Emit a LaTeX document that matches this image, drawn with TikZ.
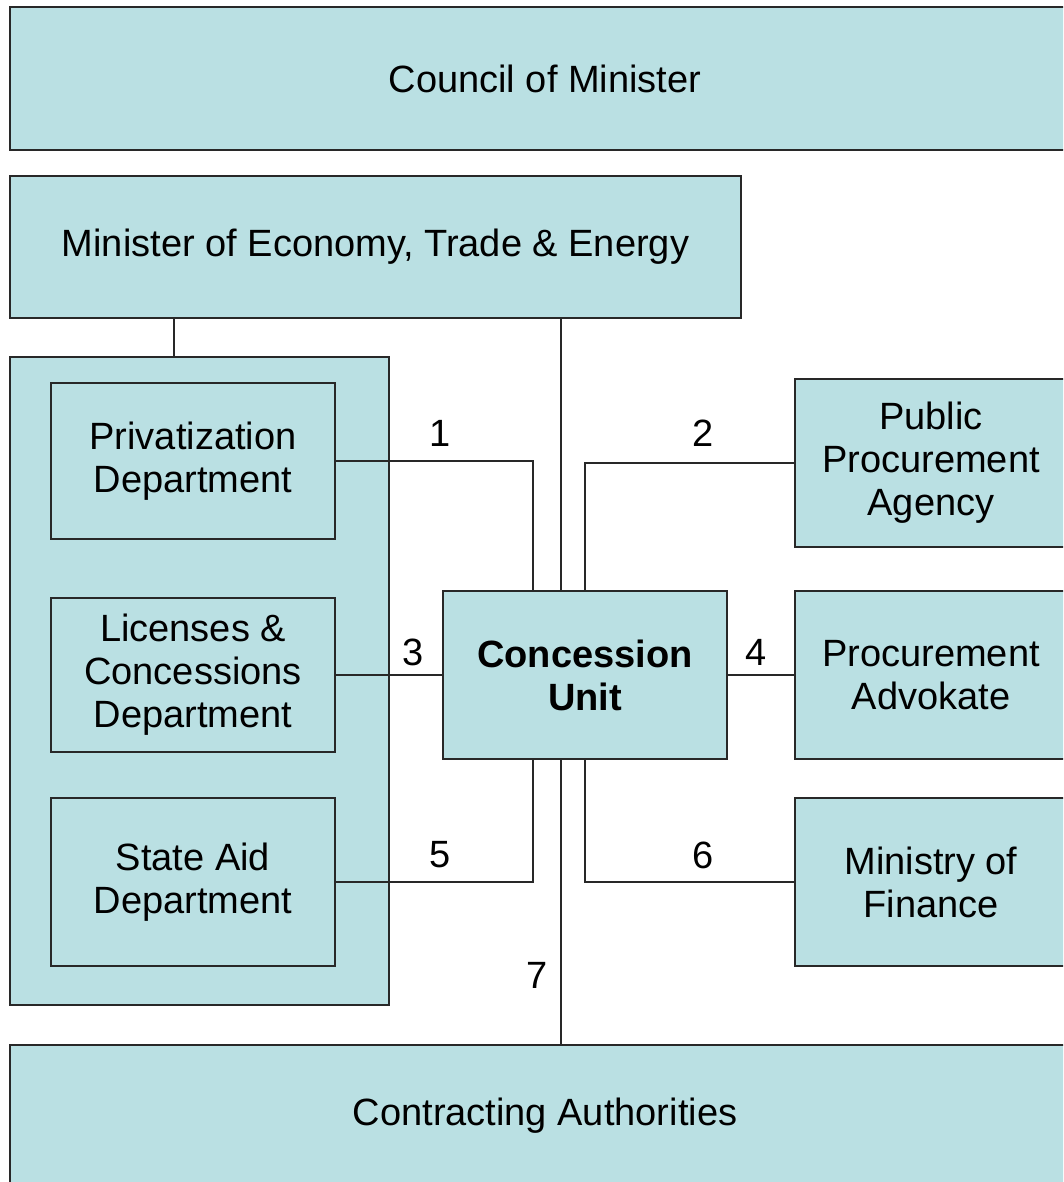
\documentclass[tikz,border=0pt]{standalone}
\usepackage{fontspec}
\setmainfont{Liberation Sans}
\definecolor{boxfill}{RGB}{186,224,227}
\definecolor{edge}{RGB}{40,40,40}
\begin{document}
\begin{tikzpicture}[x=1pt,y=-1pt,
  box/.style={draw=edge,line width=1.6pt,fill=boxfill,rectangle,inner sep=0pt,
    align=center,font=\fontsize{38}{43}\selectfont},
  conn/.style={draw=edge,line width=1.3pt},
  lbl/.style={font=\fontsize{38}{43}\selectfont,inner sep=0pt}]
\clip (0,0) rectangle (1063,1182);
\fill[white] (0,0) rectangle (1063,1182);
\node[box,minimum width=1070pt,minimum height=143pt] (council) at (545,78.5) {Council of Minister};
\node[box,minimum width=731pt,minimum height=142pt] (minister) at (375.5,247) {Minister of Economy, Trade \& Energy};
\node[box,minimum width=379pt,minimum height=648pt] (container) at (199.5,681) {};
\node[box,minimum width=284pt,minimum height=156pt] (priv) at (193,461) {Privatization\\Department};
\node[box,minimum width=284pt,minimum height=154pt] (lic) at (193,675) {Licenses \&\\Concessions\\Department};
\node[box,minimum width=284pt,minimum height=168pt] (state) at (193,882) {State Aid\\Department};
\node[box,minimum width=284pt,minimum height=168pt,font=\fontsize{38}{43}\selectfont\bfseries] (cu) at (585,675) {Concession\\Unit};
\node[box,minimum width=272pt,minimum height=168pt] (ppa) at (931,463) {Public\\Procurement\\Agency};
\node[box,minimum width=272pt,minimum height=168pt] (adv) at (931,675) {Procurement\\Advokate};
\node[box,minimum width=272pt,minimum height=168pt] (mof) at (931,882) {Ministry of\\Finance};
\node[box,minimum width=1070pt,minimum height=142pt] (contr) at (545,1116) {Contracting Authorities};
% connectors
\draw[conn] (minister.south -| 174,0) -- (container.north -| 174,0);
\draw[conn] (minister.south -| 561,0) -- ([xshift=-24pt]cu.north);
\draw[conn] ([xshift=-24pt]cu.south) -- (contr.north -| 561,0);
\draw[conn] (priv.east) -| ([xshift=-52pt]cu.north);
\draw[conn] (ppa.west) -| (cu.north);
\draw[conn] (lic.east) -- (cu.west);
\draw[conn] (cu.east) -- (adv.west);
\draw[conn] (state.east) -| ([xshift=-52pt]cu.south);
\draw[conn] (mof.west) -| (cu.south);
% labels
\node[lbl] (l1) at (440,433) {1};
\node[lbl] (l2) at (703,433) {2};
\node[lbl] (l3) at (413,652) {3};
\node[lbl] (l4) at (756,652) {4};
\node[lbl] (l5) at (440,855) {5};
\node[lbl] (l6) at (703,855) {6};
\node[lbl] (l7) at (537,975) {7};
\end{tikzpicture}
\end{document}
